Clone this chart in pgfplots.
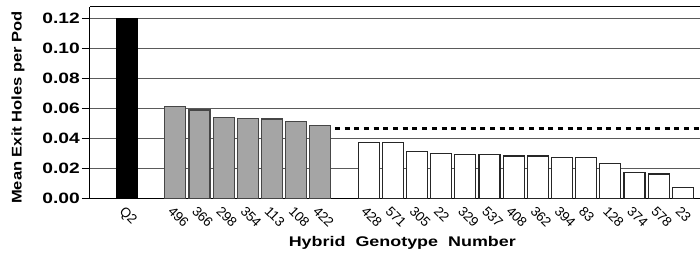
\documentclass[border=0pt]{standalone}
\usepackage{pgfplots}
\pgfplotsset{compat=1.18}
\usepackage{fontspec}
\setmainfont{Liberation Sans}
\newfontfamily\wideA[FakeStretch=1.28]{Liberation Sans}
\newfontfamily\wideB[FakeStretch=1.18]{Liberation Sans}
\definecolor{bargray}{RGB}{165,165,165}
\definecolor{baredge}{RGB}{70,70,70}
\definecolor{gridc}{RGB}{90,90,90}
\begin{document}
\begin{tikzpicture}
\begin{axis}[
  at={(0,0)}, anchor=south west,
  scale only axis, width=610bp, height=192bp,
  xmin=-1.531, xmax=23.71, ymin=0, ymax=0.1277,
  separate axis lines,
  axis x line*=bottom, axis y line*=left,
  axis line style={black, line width=1bp, -},
  ytick={0,0.02,0.04,0.06,0.08,0.10,0.12},
  ymajorgrids, grid style={gridc, line width=0.8bp},
  tick align=outside, major tick length=8bp,
  y tick style={black, line width=0.8bp},
  x tick style={draw=none},
  yticklabel style={/pgf/number format/fixed, /pgf/number format/fixed zerofill, /pgf/number format/precision=2, /pgf/number format/assume math mode=true,
    font=\wideA\bfseries\fontsize{15bp}{15bp}\selectfont, inner sep=2bp},
  xtick={0,2,3,4,5,6,7,8,10,11,12,13,14,15,16,17,18,19,20,21,22,23},
  xticklabels={Q2,496,366,298,354,113,108,422,428,571,305,22,329,537,408,362,394,83,128,374,578,23},
  x tick label style={rotate=-45, anchor=north west, inner sep=1bp, xshift=-3bp, yshift=1bp, font=\fontsize{13.5bp}{13.5bp}\selectfont},
  xlabel={Hybrid\ \ Genotype\ \ Number},
  xlabel style={at={(axis description cs:0.512,0)}, anchor=base, yshift=-48bp, font=\wideA\bfseries\fontsize{14bp}{14bp}\selectfont},
  ylabel={Mean Exit Holes per Pod},
  ylabel style={at={(axis description cs:-0.118,0.475)}, anchor=center, font=\wideB\bfseries\fontsize{14bp}{14bp}\selectfont},
  clip=false,
]
\addplot[ybar, bar shift=0pt, bar width=0.87, fill=black, draw=black, line width=1bp] coordinates {(0,0.120)};
\addplot[ybar, bar shift=0pt, bar width=0.87, fill=bargray, draw=baredge, line width=1.2bp] coordinates {
 (2,0.0612) (3,0.0590) (4,0.0542) (5,0.0535) (6,0.0530) (7,0.0512) (8,0.0486)};
\addplot[ybar, bar shift=0pt, bar width=0.87, fill=white, draw=black!85, line width=1.2bp] coordinates {
 (10,0.0373) (11,0.0373) (12,0.0313) (13,0.0302) (14,0.0295) (15,0.0295) (16,0.0284)
 (17,0.0284) (18,0.0273) (19,0.0273) (20,0.0235) (21,0.0176) (22,0.0164) (23,0.0073)};
\addplot[black, line width=3bp, dash pattern=on 5bp off 4.7bp, forget plot] coordinates {(8.6,0.0468) (23.71,0.0468)};
\draw[black, line width=1bp] (rel axis cs:0,1) -- (rel axis cs:1,1);
\end{axis}
\pgfresetboundingbox
\path (-90bp,-58.3bp) rectangle (610bp,198.7bp);
\end{tikzpicture}
\end{document}
